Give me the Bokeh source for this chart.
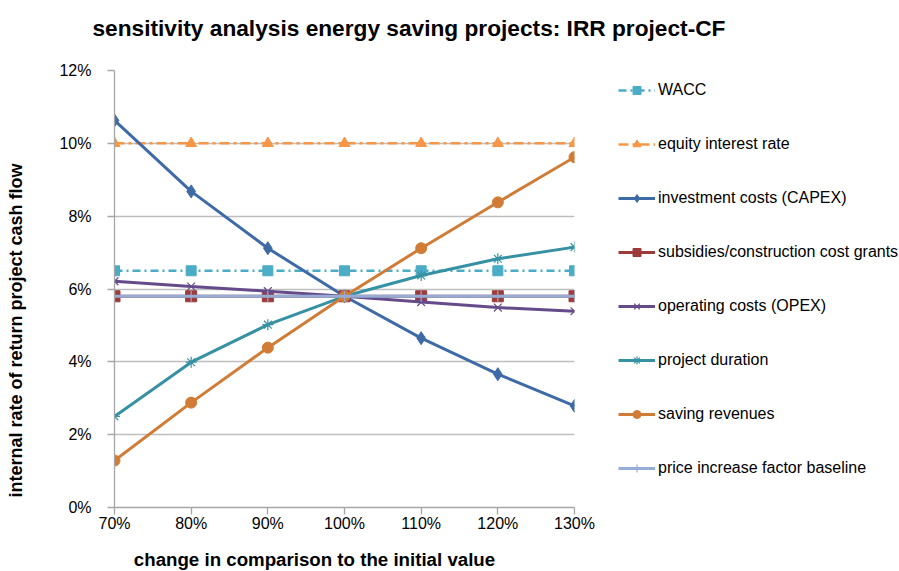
import math
from bokeh.plotting import figure
from bokeh.layouts import row, column
from bokeh.models import Legend, LegendItem, FixedTicker, Range1d, Label
from bokeh.embed import file_html
from bokeh.resources import INLINE

x_change = [70, 80, 90, 100, 110, 120, 130]
x_tick_labels = ["70%", "80%", "90%", "100%", "110%", "120%", "130%"]
y_ticks = [0, 2, 4, 6, 8, 10, 12]

wacc = [6.5, 6.5, 6.5, 6.5, 6.5, 6.5, 6.5]
equity_rate = [10.0, 10.0, 10.0, 10.0, 10.0, 10.0, 10.0]
capex = [10.63, 8.68, 7.12, 5.80, 4.65, 3.66, 2.79]
subsidies = [5.80, 5.80, 5.80, 5.80, 5.80, 5.80, 5.80]
opex = [6.21, 6.07, 5.94, 5.80, 5.64, 5.49, 5.39]
duration = [2.50, 3.99, 5.02, 5.80, 6.37, 6.83, 7.15]
saving_rev = [1.29, 2.88, 4.39, 5.80, 7.12, 8.38, 9.62]
price_factor = [5.80, 5.80, 5.80, 5.80, 5.80, 5.80, 5.80]

FONT = "Liberation Sans"


def blank(fig):
    fig.outline_line_color = None
    fig.background_fill_color = "white"
    fig.border_fill_color = "white"


# ---- title strip ----
tf = figure(width=899, height=56, output_backend="svg", toolbar_location=None,
            x_range=Range1d(0, 1), y_range=Range1d(0, 1),
            x_axis_type=None, y_axis_type=None,
            min_border_left=114, min_border_right=325, min_border_top=0, min_border_bottom=0,
            title="sensitivity analysis energy saving projects: IRR project-CF")
blank(tf)
tf.grid.grid_line_color = None
tf.title.text_font = FONT
tf.title.text_font_size = "22.7px"
tf.title.text_font_style = "bold"
tf.title.text_color = "#000000"
tf.title.align = "left"
tf.title.offset = -22
tf.title.standoff = 24

# ---- main chart ----
p = figure(width=600, height=515, output_backend="svg", toolbar_location=None,
           x_range=Range1d(70, 130), y_range=Range1d(0, 12),
           min_border_left=114, min_border_right=26, min_border_top=14, min_border_bottom=64)
blank(p)

p.xgrid.grid_line_color = None
p.ygrid.grid_line_color = "#BEBEBE"
p.ygrid.grid_line_width = 1.3
p.ygrid.ticker = FixedTicker(ticks=y_ticks)

p.xaxis.ticker = FixedTicker(ticks=x_change)
p.xaxis.major_label_overrides = {x: l for x, l in zip(x_change, x_tick_labels)}
p.yaxis.ticker = FixedTicker(ticks=y_ticks)
p.yaxis.major_label_overrides = {t: f"{t}%" for t in y_ticks}

for ax in (p.xaxis, p.yaxis):
    ax.axis_line_color = "#A6A6A6"
    ax.axis_line_width = 1.3
    ax.major_tick_line_color = "#A6A6A6"
    ax.major_tick_line_width = 1.3
    ax.major_tick_in = 0
    ax.major_tick_out = 7
    ax.minor_tick_line_color = None
    ax.major_label_text_font = FONT
    ax.major_label_text_font_size = "16px"
    ax.major_label_text_color = "#000000"

p.xaxis.major_label_standoff = 0
p.yaxis.major_label_standoff = 16

# axis titles, placed off-centre as in the reference
p.add_layout(Label(x=200, y=-4, x_units="screen", y_units="screen",
                   text="change in comparison to the initial value",
                   text_font=FONT, text_font_size="18.7px", text_font_style="bold",
                   text_color="#000000", text_align="center", text_baseline="middle"),
             "below")
p.add_layout(Label(x=-21, y=177, x_units="screen", y_units="screen", angle=math.pi / 2,
                   text="internal rate of return project cash flow",
                   text_font=FONT, text_font_size="18px", text_font_style="bold",
                   text_color="#000000", text_align="center", text_baseline="middle"),
             "left")

series = [
    ("WACC", wacc, "#4BACC6", "8 4 2 4", "square", 10, 2.5),
    ("equity interest rate", equity_rate, "#F79646", "10 4 3 4", "triangle", 11, 2.5),
    ("investment costs (CAPEX)", capex, "#3E6BA8", "solid", "diamond", 13, 3),
    ("subsidies/construction cost grants", subsidies, "#9D3A3A", "solid", "square", 11, 3),
    ("operating costs (OPEX)", opex, "#654B8A", "solid", "x", 11, 3),
    ("project duration", duration, "#3591A3", "solid", "asterisk", 11, 3),
    ("saving revenues", saving_rev, "#D07C37", "solid", "circle", 11, 3),
    ("price increase factor baseline", price_factor, "#95ADD6", "solid", "cross", 11, 3),
]

# ---- legend panel (its sample renderers lie outside its view) ----
lg = figure(width=299, height=515, output_backend="svg", toolbar_location=None,
            x_range=Range1d(0, 1), y_range=Range1d(0, 1),
            x_axis_type=None, y_axis_type=None,
            min_border_left=0, min_border_right=0, min_border_top=14, min_border_bottom=64)
blank(lg)
lg.grid.grid_line_color = None


def draw(fig, ys, color, dash, marker, size, lw):
    r1 = fig.line(x_change, ys, line_color=color, line_width=lw, line_dash=dash)
    if marker in ("x", "asterisk", "cross"):
        r2 = fig.scatter(x_change, ys, marker=marker, size=size, line_color=color,
                         line_width=1.2, fill_color=None)
    else:
        r2 = fig.scatter(x_change, ys, marker=marker, size=size, line_color=color,
                         fill_color=color)
    return r1, r2


items = []
for name, ys, color, dash, marker, size, lw in series:
    draw(p, ys, color, dash, marker, size, lw)
    r1, r2 = draw(lg, ys, color, dash, marker, size * 0.8, lw)
    items.append(LegendItem(label=name, renderers=[r1, r2]))

legend = Legend(items=items, location=(18, 29), orientation="vertical",
                spacing=34, glyph_width=37, glyph_height=20, label_height=20,
                label_standoff=3, padding=0, margin=0,
                label_text_font=FONT, label_text_font_size="16px",
                label_text_color="#000000",
                border_line_color=None, background_fill_alpha=0)
lg.add_layout(legend, "center")

layout = column(tf, row(p, lg))
open("out.html", "w").write(file_html(layout, INLINE))
